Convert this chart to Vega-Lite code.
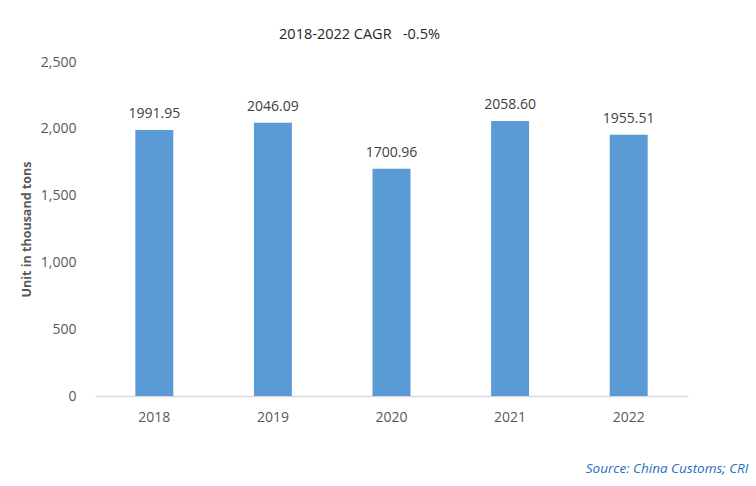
{
  "$schema": "https://vega.github.io/schema/vega-lite/v6.json",
  "width": 593,
  "height": 334,
  "autosize": {"type": "none"},
  "padding": {"left": 95, "top": 62, "right": 68, "bottom": 90},
  "background": "white",
  "config": {"view": {"stroke": null}, "font": "Open Sans"},
  "title": {
    "text": "2018-2022 CAGR\u00a0\u00a0\u00a0-0.5%",
    "fontSize": 14.5,
    "fontWeight": "normal",
    "color": "#262626",
    "font": "Open Sans",
    "anchor": "middle",
    "dx": -32,
    "offset": 13
  },
  "data": {
    "values": [
      {"year": "2018", "value": 1991.95},
      {"year": "2019", "value": 2046.09},
      {"year": "2020", "value": 1700.96},
      {"year": "2021", "value": 2058.60},
      {"year": "2022", "value": 1955.51}
    ]
  },
  "encoding": {
    "x": {
      "field": "year",
      "type": "nominal",
      "sort": null,
      "scale": {"paddingInner": 0.68, "paddingOuter": 0.34},
      "axis": {
        "title": "Source: China Customs; CRI",
        "titleFont": "Open Sans",
        "titleFontStyle": "italic",
        "titleFontWeight": "normal",
        "titleFontSize": 13.5,
        "titleColor": "#1f6fc0",
        "titleAlign": "right",
        "titleAnchor": null,
        "titleX": 653,
        "titleY": 76,
        "titleBaseline": "alphabetic",
        "labelAngle": 0,
        "labelFontSize": 14,
        "labelColor": "#595959",
        "labelPadding": 14,
        "ticks": false,
        "domainColor": "#d9d9d9",
        "domainWidth": 1.5,
        "grid": false
      }
    },
    "y": {
      "field": "value",
      "type": "quantitative",
      "scale": {"domain": [0, 2500]},
      "axis": {
        "title": "Unit in thousand tons",
        "titleFontSize": 12.5,
        "titleFontWeight": "bold",
        "titleColor": "#595959",
        "titleX": -62,
        "values": [0, 500, 1000, 1500, 2000, 2500],
        "format": ",.0f",
        "labelFontSize": 14,
        "labelColor": "#595959",
        "labelPadding": 19,
        "ticks": false,
        "domain": false,
        "grid": false
      }
    }
  },
  "layer": [
    {"mark": {"type": "bar", "color": "#5b9bd5"}},
    {
      "mark": {"type": "text", "dy": -9, "fontSize": 14, "color": "#404040", "baseline": "bottom"},
      "encoding": {"text": {"field": "value", "type": "quantitative", "format": ".2f"}}
    }
  ]
}
